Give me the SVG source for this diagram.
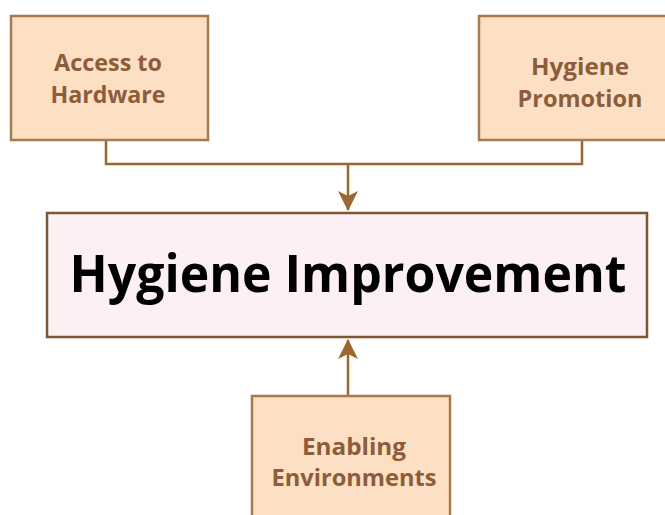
<svg xmlns="http://www.w3.org/2000/svg" width="665" height="515" viewBox="0 0 665 515">
<style>
.box{fill:#fde0c3;stroke:#a8794e;stroke-width:2.5}
.main{fill:#fcf0f3;stroke:#7d5634;stroke-width:2.5}
.lbl{font-family:"Open Sans","Noto Sans",sans-serif;font-weight:bold;font-size:23px;fill:#8c5c3b;text-anchor:middle}
.big{font-family:"Open Sans","Noto Sans",sans-serif;font-weight:bold;font-size:52px;fill:#000;text-anchor:middle}
.conn{fill:none;stroke:#9a672e;stroke-width:2.5}
</style>
<defs>
<marker id="ah" viewBox="0 0 20 20" refX="19" refY="10" markerWidth="20" markerHeight="20" markerUnits="userSpaceOnUse" orient="auto">
<path d="M0,0 L20,10 L0,20 L5,10 Z" fill="#9a672e"/>
</marker>
</defs>
<g id="connectors">
<path class="conn" d="M106,140 V164 H582 V140"/>
<path class="conn" d="M348,164 V210" marker-end="url(#ah)"/>
<path class="conn" d="M348,396 V340" marker-end="url(#ah)"/>
</g>
<g id="access">
<rect class="box" x="11" y="16" width="197" height="124"/>
<text class="lbl" x="108" y="71" textLength="108" lengthAdjust="spacingAndGlyphs">Access to</text>
<text class="lbl" x="108" y="103" textLength="115" lengthAdjust="spacingAndGlyphs">Hardware</text>
</g>
<g id="promotion">
<rect class="box" x="479" y="16" width="200" height="124"/>
<text class="lbl" x="580" y="75" textLength="98" lengthAdjust="spacingAndGlyphs">Hygiene</text>
<text class="lbl" x="580" y="107" textLength="125" lengthAdjust="spacingAndGlyphs">Promotion</text>
</g>
<g id="improvement">
<rect class="main" x="47" y="213" width="600" height="124"/>
<text class="big" x="348" y="292" textLength="557" lengthAdjust="spacingAndGlyphs">Hygiene Improvement</text>
</g>
<g id="enabling">
<rect class="box" x="252" y="396" width="198" height="130"/>
<text class="lbl" x="354" y="455" textLength="104" lengthAdjust="spacingAndGlyphs">Enabling</text>
<text class="lbl" x="354" y="486" textLength="165" lengthAdjust="spacingAndGlyphs">Environments</text>
</g>
</svg>
